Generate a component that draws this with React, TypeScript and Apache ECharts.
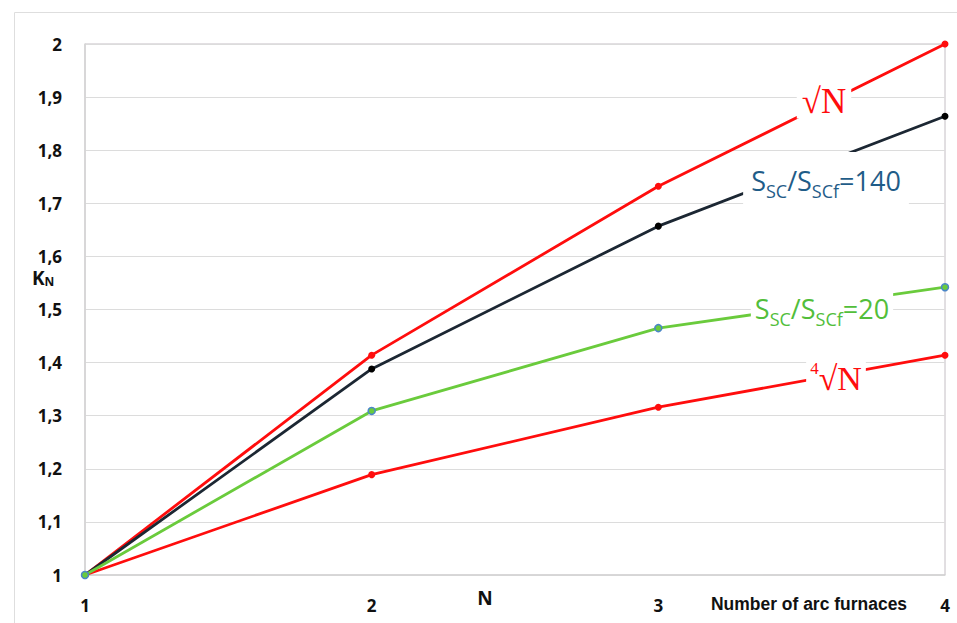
import React, { useEffect, useRef } from "react";
import * as echarts from "echarts";

const furnaces = [1, 2, 3, 4];
const sqrtN = [1, 1.414, 1.732, 2];
const ratio140 = [1, 1.388, 1.657, 1.864];
const ratio20 = [1, 1.309, 1.465, 1.542];
const fourthRootN = [1, 1.189, 1.316, 1.414];

const RED = "#ff0d0d";
const NAVY = "#1c2733";
const GREEN = "#6acb3c";

const pts = (ys: number[]) => furnaces.map((x, i) => [x, ys[i]]);

export default function App() {
  const ref = useRef<HTMLDivElement>(null);
  useEffect(() => {
    if (!ref.current) return;
    const chart = echarts.init(ref.current, undefined, { renderer: "svg" });
    const line = (name: string, ys: number[], color: string, extra: any = {}) => ({
      name,
      type: "line",
      data: pts(ys),
      symbol: "circle",
      symbolSize: 7,
      lineStyle: { color, width: 2.8 },
      itemStyle: { color, ...extra },
      z: 2,
    });
    chart.setOption({
      animation: false,
      backgroundColor: "#ffffff",
      grid: {
        left: 85,
        top: 44,
        right: 12,
        bottom: 48,
        show: true,
        borderColor: "#c4bec4",
        borderWidth: 1,
      },
      xAxis: {
        type: "value",
        min: 1,
        max: 4,
        interval: 1,
        axisLine: { show: true, lineStyle: { color: "#d4d4d4", width: 1.5 } },
        axisTick: { show: false },
        splitLine: { show: false },
        axisLabel: {
          margin: 22,
          fontFamily: "Open Sans",
          fontWeight: "bold",
          fontSize: 17,
          color: "#111",
        },
      },
      yAxis: {
        type: "value",
        min: 1,
        max: 2,
        interval: 0.1,
        axisLine: { show: true, lineStyle: { color: "#d4d4d4", width: 1.5 } },
        axisTick: { show: false },
        splitLine: { show: true, lineStyle: { color: "#dcdcdc", width: 1 } },
        axisLabel: {
          margin: 23,
          fontFamily: "Open Sans",
          fontWeight: "bold",
          fontSize: 17,
          color: "#111",
          formatter: (v: number) => (Math.round(v * 10) / 10).toString().replace(".", ","),
        },
      },
      series: [
        line("√N", sqrtN, RED),
        line("∜N", fourthRootN, RED),
        line("Ssc/Sscf=140", ratio140, NAVY, { color: "#000" }),
        line("Ssc/Sscf=20", ratio20, GREEN, { borderColor: "#4a86c8", borderWidth: 1.5 }),
      ],
      graphic: [
        {
          type: "rect",
          z: 0,
          shape: { x: 14.5, y: 12.5, width: 960, height: 700 },
          style: { fill: "none", stroke: "#dedede", lineWidth: 1 },
          silent: true,
        },
        {
          type: "text",
          left: 32,
          top: 268,
          z: 10,
          style: {
            text: "{k|K}{n|N}",
            rich: {
              k: { fontFamily: "Open Sans", fontWeight: "bold", fontSize: 19, fill: "#111" },
              n: { fontFamily: "Open Sans", fontWeight: "bold", fontSize: 12, fill: "#111", padding: [8, 0, 0, 0] },
            },
          },
        },
        {
          type: "text",
          x: 485,
          y: 598,
          z: 10,
          style: {
            text: "N",
            fontFamily: "Open Sans",
            fontWeight: "bold",
            fontSize: 19,
            fill: "#111",
            align: "center",
            verticalAlign: "middle",
          },
        },
        {
          type: "text",
          x: 809,
          y: 603,
          z: 10,
          scaleX: 0.92,
          style: {
            text: "Number of arc furnaces",
            fontFamily: "Liberation Sans",
            fontWeight: "bold",
            fontSize: 19,
            fill: "#111",
            align: "center",
            verticalAlign: "middle",
          },
        },
        {
          type: "text",
          x: 824,
          y: 101,
          z: 10,
          style: {
            text: "√N",
            fontFamily: "Liberation Serif",
            fontSize: 35,
            fill: RED,
            align: "center",
            verticalAlign: "middle",
            backgroundColor: "#fff",
            padding: [0, 5, 0, 5],
          },
        },
        {
          type: "text",
          x: 826,
          y: 180,
          z: 10,
          style: {
            text: "{m|S}{s|SC}{m|/S}{s|SCf}{m|=140}",
            align: "center",
            verticalAlign: "middle",
            backgroundColor: "#fff",
            padding: [8, 8, 8, 8],
            rich: {
              m: { fontFamily: "Open Sans", fontSize: 27, fill: "#1f5c88" },
              s: { fontFamily: "Open Sans", fontSize: 18, fill: "#1f5c88", padding: [22, 0, 0, 0] },
            },
          },
        },
        {
          type: "text",
          x: 822,
          y: 308,
          z: 10,
          style: {
            text: "{m|S}{s|SC}{m|/S}{s|SCf}{m|=20}",
            align: "center",
            verticalAlign: "middle",
            backgroundColor: "#fff",
            padding: [2, 4, 2, 4],
            rich: {
              m: { fontFamily: "Open Sans", fontSize: 27, fill: "#52be3a" },
              s: { fontFamily: "Open Sans", fontSize: 18, fill: "#52be3a", padding: [22, 0, 0, 0] },
            },
          },
        },
        {
          type: "text",
          x: 836,
          y: 378,
          z: 10,
          style: {
            text: "{p|4}{r|√N}",
            align: "center",
            verticalAlign: "middle",
            backgroundColor: "#fff",
            padding: [0, 4, 0, 4],
            rich: {
              p: { fontFamily: "Liberation Serif", fontSize: 17, fill: RED, padding: [0, 0, 20, 0] },
              r: { fontFamily: "Liberation Serif", fontSize: 34, fill: RED },
            },
          },
        },
      ],
    });
    return () => chart.dispose();
  }, []);
  return (
    <div
      ref={ref}
      style={{ position: "fixed", left: 0, top: 0, width: 957, height: 623 }}
    />
  );
}
